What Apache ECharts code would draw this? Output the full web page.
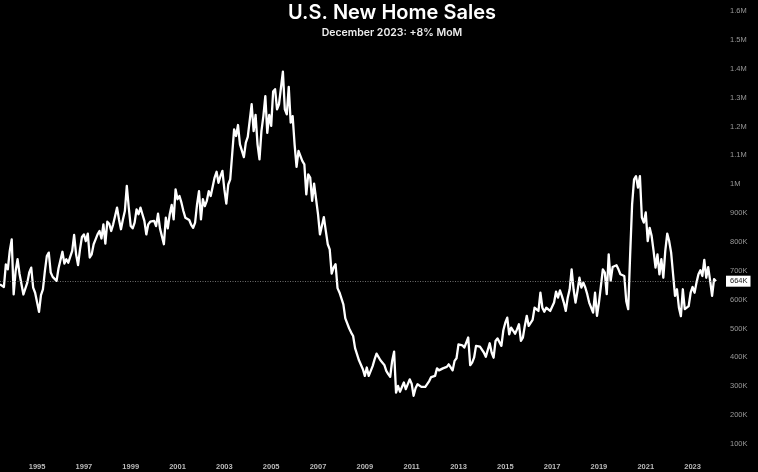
<!DOCTYPE html>
<html><head><meta charset="utf-8">
<style>html,body{margin:0;padding:0;background:#000}#c{width:758px;height:472px}</style>
<script src="https://cdn.jsdelivr.net/npm/echarts@6/dist/echarts.min.js"></script></head>
<body><div id="c"></div>
<script>
const titleText = 'U.S. New Home Sales';
const subtitleText = 'December 2023: +8% MoM';
const startYear = 1993, startMonth = 6;
const latestValue = 664;
const sales = [
653,653,644,722,705,769,809,618,699,740,690,688,618,624,659,694,711,642,624,618,558,616,636,699,751,763,694,679,685,665,
709,713,766,725,740,728,722,769,824,757,720,774,817,826,803,829,746,757,792,809,826,838,812,861,794,870,863,838,861,890,
919,878,844,878,907,994,919,855,847,867,913,896,919,896,873,826,861,870,873,873,855,898,847,844,792,884,847,896,928,878,
982,948,959,936,907,884,881,876,859,849,867,930,976,878,948,924,942,976,959,956,1023,1043,1005,1028,1046,982,933,999,1017,1103,
1190,1167,1205,1138,1132,1094,1144,1164,1164,1277,1184,1240,1138,1086,1184,1236,1305,1178,1240,1202,1321,1329,1259,1277,1277,1390,1259,1242,1337,1213,
1236,1138,1060,1115,1121,1080,1069,965,1034,1023,942,1002,997,896,826,832,886,838,792,774,690,711,723,640,625,621,584,535,532,500,
486,474,432,428,390,385,359,336,365,336,336,370,393,413,417,390,393,374,353,342,333,388,420,278,301,281,278,313,290,286,
324,309,267,293,307,303,298,293,298,303,318,332,336,336,362,355,358,362,359,367,376,382,355,388,397,445,445,442,434,428,
469,373,382,399,440,442,437,436,417,402,399,449,417,399,457,466,469,440,494,520,538,480,503,501,482,497,515,457,468,509,
544,509,505,530,572,567,561,624,572,558,572,567,561,567,590,628,607,632,613,590,561,607,636,705,636,590,630,676,642,659,
642,619,590,584,555,624,544,590,647,705,694,619,757,665,713,719,719,705,688,694,682,595,567,757,930,1017,1028,988,1028,884,
867,902,803,849,821,769,711,757,688,740,676,769,829,803,763,688,613,636,572,543,636,567,572,578,624,644,624,659,688,702,
682,738,676,713,665,613,671,664
];
const months = sales.map((_, i) => {
  const t = startYear * 12 + (startMonth - 1) + i;
  return Math.floor(t / 12) + '-' + String(t % 12 + 1).padStart(2, '0');
});
const fmtY = v => v >= 1000 ? (v / 1000) + 'M' : v + 'K';
const chart = echarts.init(document.getElementById('c'), null, {renderer:'canvas'});
chart.setOption({
  animation:false,
  backgroundColor:'#000',
  textStyle:{fontFamily:'"Liberation Sans", sans-serif'},
  title:[
    {text:titleText,left:387,top:-2,textAlign:'center',textStyle:{color:'#fff',fontSize:20,fontWeight:600,fontFamily:'Inter'}},
    {text:subtitleText,left:387,top:22,textAlign:'center',textStyle:{color:'#eee',fontSize:10.5,fontWeight:600,fontFamily:'Inter'}}
  ],
  grid:{left:0,width:716,top:11,height:433,containLabel:false},
  xAxis:{type:'category',data:months,boundaryGap:false,axisLine:{show:false},axisTick:{show:false},splitLine:{show:false},
    axisLabel:{color:'#bbb',fontSize:7.5,fontWeight:700,margin:19,hideOverlap:false,interval:(i,v)=>v.endsWith('-01')&&(+v.slice(0,4))%2===1,formatter:v=>v.slice(0,4)}},
  yAxis:{type:'value',position:'right',min:100,max:1600,interval:100,axisLine:{show:false},axisTick:{show:false},splitLine:{show:false},
    axisLabel:{color:'#999',fontSize:7.5,fontWeight:400,margin:14,align:'left',formatter:fmtY}},
  series:[{type:'line',data:sales,showSymbol:false,symbol:'none',smooth:false,clip:false,
    lineStyle:{color:'#fff',width:2.3,join:'round'},
    markLine:{silent:true,symbol:'none',animation:false,
      lineStyle:{color:'#888',type:[1,1.5],width:0.8},
      label:{show:true,position:'end',distance:10,formatter:latestValue+'K',color:'#222',backgroundColor:'#fff',fontSize:7.5,padding:[2,3,1,4]},
      data:[{yAxis:latestValue}]}}]
});
</script></body></html>
